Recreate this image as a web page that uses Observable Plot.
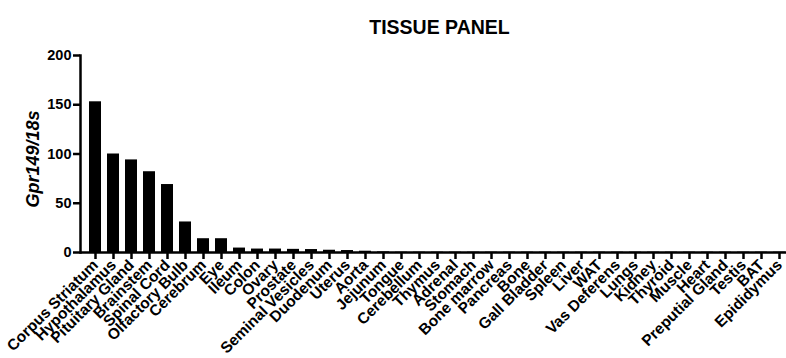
<!DOCTYPE html>
<html>
<head>
<meta charset="utf-8">
<script src="https://cdn.jsdelivr.net/npm/d3@7"></script>
<script src="https://cdn.jsdelivr.net/npm/@observablehq/plot@0.6"></script>
<style>
  html, body { margin: 0; padding: 0; background: #fff; }
  #chart svg { display: block; }
</style>
</head>
<body>
<div id="chart"></div>
<script>
const tissues = ["Corpus Striatum","Hypothalamus","Pituitary Gland","Brainstem","Spinal Cord","Olfactory Bulb","Cerebrum","Eye","Ileum","Colon","Ovary","Prostate","Seminal Vesicles","Duodenum","Uterus","Aorta","Jejunum","Tongue","Cerebellum","Thymus","Adrenal","Stomach","Bone marrow","Pancreas","Bone","Gall Bladder","Spleen","Liver","WAT","Vas Deferens","Lungs","Kidney","Thyroid","Muscle","Heart","Preputial Gland","Testis","BAT","Epididymus"];
const expression = [153, 100, 94, 82, 69, 31, 14, 14, 4.5, 3.5, 3.5, 3.2, 3, 2.3, 2, 1.3, 0.6, 0.3, 0.3, 0.3, 0.3, 0.3, 0.3, 0.3, 0.3, 0.3, 0.3, 0.3, 0.3, 0.3, 0.3, 0.3, 0.3, 0.3, 0.3, 0.3, 0.3, 0.3, 0.3];
const yTicks = [0, 50, 100, 150, 200];
const title = "TISSUE PANEL";
const yLabel = "Gpr149/18s";

const data = tissues.map((t, i) => ({tissue: t, value: expression[i]}));
const font = "'Liberation Sans', Arial, sans-serif";

const chart = Plot.plot({
  width: 786,
  height: 358,
  marginTop: 55,
  marginBottom: 106,
  marginLeft: 80,
  marginRight: 0,
  style: {fontFamily: font, fontWeight: "bold", color: "#000", background: "#fff"},
  x: {domain: tissues, range: [86, 788], paddingInner: 0.33, paddingOuter: 0.165},
  y: {domain: [0, 200]},
  marks: [
    Plot.barY(data, {x: "tissue", y: "value", fill: "#000"}),
    Plot.ruleY([0], {stroke: "#000", strokeWidth: 2.5}),
    Plot.frame({anchor: "left", stroke: "#000", strokeWidth: 2.5}),
    Plot.axisY({ticks: yTicks, tickSize: 7, tickPadding: 2, tickFormat: d => String(d), fontSize: 14.5, fontWeight: "bold", strokeWidth: 2.5, label: null}),
    Plot.axisX({tickSize: 7, tickPadding: 3, tickRotate: -45, fontSize: 15.5, fontWeight: "bold", strokeWidth: 2.5, label: null}),
    Plot.text([yLabel], {frameAnchor: "left", textAnchor: "middle", lineAnchor: "middle", rotate: -90, dx: -47, dy: 5, fontSize: 18, fontWeight: "bold", fontStyle: "italic", fill: "#000"}),
    Plot.text([title], {frameAnchor: "top", dx: 6, dy: -35, fontSize: 19.5, fontWeight: "bold", fill: "#000"})
  ]
});
document.getElementById("chart").appendChild(chart);
</script>
</body>
</html>
